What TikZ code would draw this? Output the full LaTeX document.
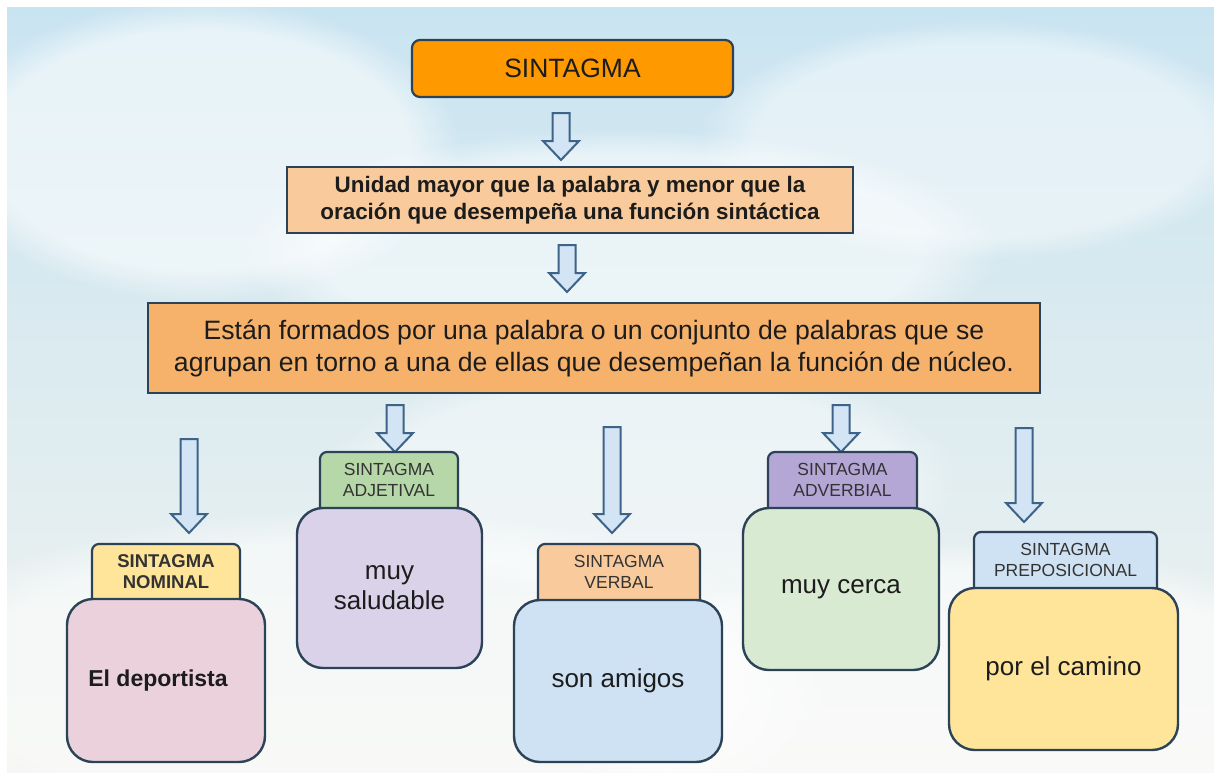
\documentclass[tikz,border=0pt]{standalone}
\usepackage{fontspec}
\setmainfont{Liberation Sans}
\usetikzlibrary{fadings}
\definecolor{skytop}{HTML}{C9E4F1}
\definecolor{skybot}{HTML}{F1F3EF}
\definecolor{bordc}{HTML}{2B4257}
\definecolor{arrfill}{HTML}{D3E4F4}
\definecolor{arrdraw}{HTML}{3D6388}
\definecolor{orangec}{HTML}{FF9900}
\definecolor{peachc}{HTML}{F9CB9C}
\definecolor{orange2c}{HTML}{F6B26B}
\definecolor{yellowc}{HTML}{FFE599}
\definecolor{pinkc}{HTML}{EAD1DC}
\definecolor{greenlc}{HTML}{B6D7A8}
\definecolor{lavc}{HTML}{D9D2E9}
\definecolor{lbluec}{HTML}{CFE2F3}
\definecolor{purplec}{HTML}{B4A7D6}
\definecolor{lgreenc}{HTML}{D9EAD3}
\definecolor{txtc}{HTML}{1C1C1C}
\definecolor{lbltxt}{HTML}{333333}
\newcommand\fs[2]{\fontsize{#1}{#2}\selectfont}
\newcommand\blockarrow[4]{% cx, top, tip, name
  \draw[arrowshape] (#1-8.5,#2) -- (#1+8.5,#2) -- (#1+8.5,#3-19) -- (#1+18,#3-19)
    -- (#1,#3) -- (#1-18,#3-19) -- (#1-8.5,#3-19) -- cycle;
  \coordinate (#4) at (#1,#3);}
\newcommand\tabshape[5]{% x1,y1,x2,y2,fill
  \draw[tabline, fill=#5, rounded corners=7] (#1,#4+8) -- (#1,#2) -- (#3,#2) -- (#3,#4+8);}
\begin{document}
\begin{tikzpicture}[x=1pt,y=-1pt,
  arrowshape/.style={draw=arrdraw, fill=arrfill, line width=2pt, line join=miter},
  tabline/.style={draw=bordc, line width=2.2pt},
  topbox/.style={draw=bordc, line width=2.2pt, rounded corners=8, fill=orangec,
    minimum width=321, minimum height=57, text=txtc, font=\fs{26.5}{30}},
  sqbox/.style={draw=bordc, line width=2.2pt, text=txtc, align=center},
  tabtext/.style={text=lbltxt, align=center, font=\fs{17.5}{21}, inner sep=0pt},
  bodybox/.style={draw=bordc, line width=2.4pt, rounded corners=26, text=txtc,
    align=center, font=\fs{26}{30}},
  cloud/.style={white, path fading=circle with fuzzy edge 20 percent}]
\useasboundingbox (0,0) rectangle (1214,772);
% background
\fill[white] (0,0) rectangle (1214,772);
\shade[top color=skytop, bottom color=skybot] (7,7) rectangle (1214,772);
\begin{scope}
\clip (7,7) rectangle (1214,772);
\fill[cloud, opacity=0.55] (200,150) ellipse [x radius=260, y radius=150];
\fill[cloud, opacity=0.5] (620,250) ellipse [x radius=380, y radius=120];
\fill[cloud, opacity=0.45] (980,140) ellipse [x radius=280, y radius=120];
\fill[cloud, opacity=0.55] (350,680) ellipse [x radius=480, y radius=170];
\fill[cloud, opacity=0.6] (950,700) ellipse [x radius=420, y radius=160];
\fill[cloud, opacity=0.4] (640,480) ellipse [x radius=320, y radius=120];
\end{scope}
% top levels
\node[topbox] (top) at (572.5,68.5) {SINTAGMA};
\blockarrow{561}{113}{160}{a1}
\node[sqbox, fill=peachc, minimum width=566, minimum height=66, font=\bfseries\fs{22.4}{27}] (def) at (570,200)
  {Unidad mayor que la palabra y menor que la\\oración que desempeña una función sintáctica};
\blockarrow{567}{245}{292}{a2}
\node[sqbox, fill=orange2c, minimum width=892, minimum height=90, font=\fs{26.6}{32}] (desc) at (594,348)
  {Están formados por una palabra o un conjunto de palabras que se\\agrupan en torno a una de ellas que desempeñan la función de núcleo.};
% arrows to the types
\blockarrow{189}{439}{533}{t1}
\blockarrow{395}{405}{452}{t2}
\blockarrow{612}{427}{533}{t3}
\blockarrow{841}{405}{452}{t4}
\blockarrow{1024}{428}{522}{t5}
% nominal
\tabshape{92}{544}{240}{600}{yellowc}
\node[tabtext, font=\bfseries\fs{18.5}{21}] (lnom) at (166,572) {SINTAGMA\\NOMINAL};
\node[bodybox, fill=pinkc, minimum width=198, minimum height=163, font=\bfseries\fs{23}{26}] (bnom) at (166,680.5) {\hspace*{-16pt}El deportista};
% adjetival
\tabshape{320}{452}{458}{508}{greenlc}
\node[tabtext] (ladj) at (389,480) {SINTAGMA\\ADJETIVAL};
\node[bodybox, fill=lavc, minimum width=185, minimum height=160] (badj) at (389.5,588) {muy\\saludable};
% verbal
\tabshape{538}{544}{700}{600}{peachc}
\node[tabtext] (lver) at (619,572) {SINTAGMA\\VERBAL};
\node[bodybox, fill=lbluec, minimum width=208, minimum height=162] (bver) at (618,681) {son amigos};
% adverbial
\tabshape{768}{452}{917}{508}{purplec}
\node[tabtext] (ladv) at (842.5,480) {SINTAGMA\\ADVERBIAL};
\node[bodybox, fill=lgreenc, minimum width=196, minimum height=162] (badv) at (841,589) {muy cerca};
% preposicional
\tabshape{974}{532}{1157}{588}{lbluec}
\node[tabtext] (lpre) at (1065.5,560) {SINTAGMA\\PREPOSICIONAL};
\node[bodybox, fill=yellowc, minimum width=229, minimum height=162] (bpre) at (1063.5,669) {por el camino};
\end{tikzpicture}
\end{document}
